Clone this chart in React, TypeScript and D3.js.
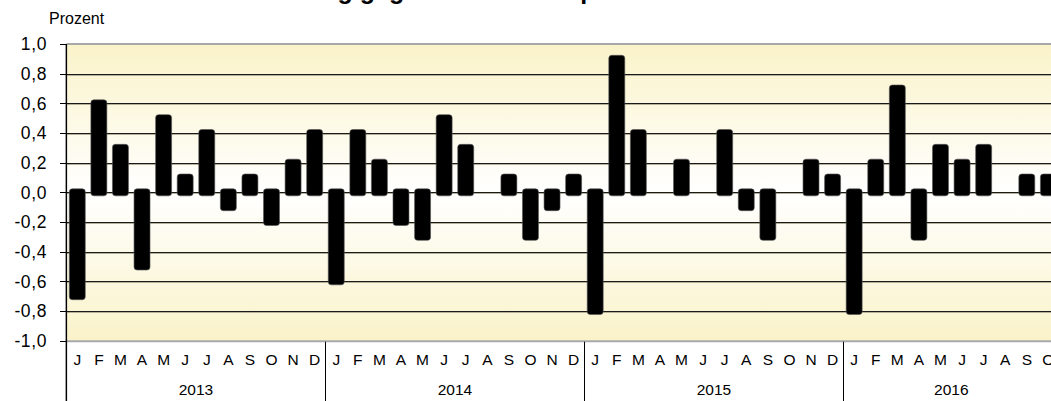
import React, { useEffect, useRef } from 'react';
import * as d3 from 'd3';

// monthly change in percent, one array per year
const years = ['2013', '2014', '2015', '2016'];
const monthLetters = ['J', 'F', 'M', 'A', 'M', 'J', 'J', 'A', 'S', 'O', 'N', 'D'];
const values2013 = [-0.7, 0.6, 0.3, -0.5, 0.5, 0.1, 0.4, -0.1, 0.1, -0.2, 0.2, 0.4];
const values2014 = [-0.6, 0.4, 0.2, -0.2, -0.3, 0.5, 0.3, 0.0, 0.1, -0.3, -0.1, 0.1];
const values2015 = [-0.8, 0.9, 0.4, 0.0, 0.2, 0.0, 0.4, -0.1, -0.3, 0.0, 0.2, 0.1];
const values2016 = [-0.8, 0.2, 0.7, -0.3, 0.3, 0.2, 0.3, 0.0, 0.1, 0.1];
const yTicks = [-1.0, -0.8, -0.6, -0.4, -0.2, 0.0, 0.2, 0.4, 0.6, 0.8, 1.0];

const title = 'Veränderung gegenüber der Vorperiode in Prozent';
const unitLabel = 'Prozent';

function App() {
    const chartRef = useRef<SVGSVGElement>(null);

    useEffect(() => {
        const W = 1051;
        const H = 401;
        const left = 66.5;
        const monthW = 21.58;
        const top = 44;
        const bottom = 340.7;
        const font = 'Liberation Sans, Arial, sans-serif';

        // flatten data into month records
        const allYears = [values2013, values2014, values2015, values2016];
        const data: { key: string; year: string; m: string; v: number }[] = [];
        allYears.forEach((vals, yi) => {
            vals.forEach((v, mi) => {
                data.push({ key: years[yi] + '-' + mi, year: years[yi], m: monthLetters[mi], v });
            });
        });

        const svg = d3.select(chartRef.current);
        svg.selectAll('*').remove();

        const x = d3.scaleBand()
            .domain(data.map((d) => d.key))
            .range([left, left + monthW * data.length])
            .paddingInner(0.26)
            .paddingOuter(0.13);

        const y = d3.scaleLinear()
            .domain([-1, 1])
            .range([bottom, top]);

        // background gradient: yellow at edges, white around zero
        const grad = svg.append('defs').append('linearGradient')
            .attr('id', 'bg')
            .attr('x1', 0).attr('y1', 0).attr('x2', 0).attr('y2', 1);
        grad.append('stop').attr('offset', '0%').attr('stop-color', '#faf3c9');
        grad.append('stop').attr('offset', '50%').attr('stop-color', '#ffffff');
        grad.append('stop').attr('offset', '100%').attr('stop-color', '#faf3c9');

        const plotRight = left + monthW * data.length;
        svg.append('rect')
            .attr('x', left)
            .attr('y', top)
            .attr('width', plotRight - left)
            .attr('height', bottom - top)
            .attr('fill', 'url(#bg)');

        // gridlines
        const inner = yTicks.filter((t) => Math.abs(t) < 0.99);
        svg.append('g').selectAll('line')
            .data(inner)
            .join('line')
            .attr('x1', left).attr('x2', plotRight)
            .attr('y1', (d) => Math.round(y(d)) + 1.5)
            .attr('y2', (d) => Math.round(y(d)) + 1.5)
            .attr('stroke', '#b5b09a')
            .attr('stroke-width', 1);
        svg.append('g').selectAll('line')
            .data(inner)
            .join('line')
            .attr('x1', left).attr('x2', plotRight)
            .attr('y1', (d) => Math.round(y(d)) + 0.5)
            .attr('y2', (d) => Math.round(y(d)) + 0.5)
            .attr('stroke', '#1a1a1a')
            .attr('stroke-width', 1);

        // top and bottom frame
        svg.append('line')
            .attr('x1', left).attr('x2', plotRight)
            .attr('y1', top).attr('y2', top)
            .attr('stroke', '#a8a8a8').attr('stroke-width', 2);
        svg.append('line')
            .attr('x1', left).attr('x2', plotRight)
            .attr('y1', bottom + 0.5).attr('y2', bottom + 0.5)
            .attr('stroke', '#a8a8a8').attr('stroke-width', 2);

        // bars, with the rounded overhang of the original
        const pad = 3.5;
        svg.append('g').selectAll('rect')
            .data(data.filter((d) => d.v !== 0))
            .join('rect')
            .attr('x', (d) => x(d.key)!)
            .attr('width', x.bandwidth())
            .attr('y', (d) => Math.min(y(d.v), y(0)) - pad)
            .attr('height', (d) => Math.abs(y(d.v) - y(0)) + pad * 2)
            .attr('rx', 3)
            .attr('fill', '#000')
            .attr('stroke', '#555')
            .attr('stroke-width', 0.6);

        // y axis
        svg.append('line')
            .attr('x1', left - 1).attr('x2', left - 1)
            .attr('y1', top).attr('y2', H)
            .attr('stroke', '#b0b0b0').attr('stroke-width', 1);
        svg.append('line')
            .attr('x1', left).attr('x2', left)
            .attr('y1', top).attr('y2', H)
            .attr('stroke', '#000').attr('stroke-width', 1.2);
        svg.append('g').selectAll('line')
            .data(yTicks)
            .join('line')
            .attr('x1', 60).attr('x2', left)
            .attr('y1', (d) => Math.round(y(d)) + 0.5)
            .attr('y2', (d) => Math.round(y(d)) + 0.5)
            .attr('stroke', '#000');

        const fmt = (d: number) => d3.format('.1f')(d).replace('.', ',').replace('−', '-');
        svg.append('g').selectAll('text')
            .data(yTicks)
            .join('text')
            .attr('x', 47)
            .attr('y', (d) => y(d) + 6.3)
            .attr('text-anchor', 'end')
            .attr('font-family', font)
            .attr('font-size', 17.5)
            .attr('letter-spacing', 0.6)
            .attr('fill', '#000')
            .text(fmt);

        // month letters
        svg.append('g').selectAll('text')
            .data(data)
            .join('text')
            .attr('x', (d) => x(d.key)! + x.bandwidth() / 2)
            .attr('y', 365)
            .attr('text-anchor', 'middle')
            .attr('font-family', font)
            .attr('font-size', 15.5)
            .attr('fill', '#000')
            .text((d) => d.m);

        // year separators and labels
        const yearStart = years.map((yr, i) => {
            const n = allYears.slice(0, i).reduce((s, a) => s + a.length, 0);
            return { yr, x0: left + n * monthW, x1: left + (n + allYears[i].length) * monthW };
        });
        svg.append('g').selectAll('line')
            .data(yearStart.slice(1))
            .join('line')
            .attr('x1', (d) => Math.round(d.x0) + 0.5)
            .attr('x2', (d) => Math.round(d.x0) + 0.5)
            .attr('y1', bottom + 1).attr('y2', H)
            .attr('stroke', '#000');
        svg.append('g').selectAll('text')
            .data(yearStart)
            .join('text')
            .attr('x', (d) => (d.x0 + d.x1) / 2)
            .attr('y', 395)
            .attr('text-anchor', 'middle')
            .attr('font-family', font)
            .attr('font-size', 15.5)
            .attr('fill', '#000')
            .text((d) => d.yr);

        // unit label and (cut off) title
        svg.append('text')
            .attr('x', 49)
            .attr('y', 24)
            .attr('font-family', font)
            .attr('font-size', 16)
            .attr('fill', '#000')
            .text(unitLabel);
        svg.append('text')
            .attr('x', 200)
            .attr('y', -1.5)
            .attr('font-family', font)
            .attr('font-weight', 'bold')
            .attr('font-size', 25)
            .attr('fill', '#000')
            .text(title);

        svg.attr('width', W).attr('height', H);
    }, []);

    return (
        <div style={{ position: 'absolute', left: 0, top: 0 }}>
            <svg ref={chartRef} width={1051} height={401} style={{ display: 'block', background: '#fff' }}></svg>
        </div>
    );
}

export default App;
